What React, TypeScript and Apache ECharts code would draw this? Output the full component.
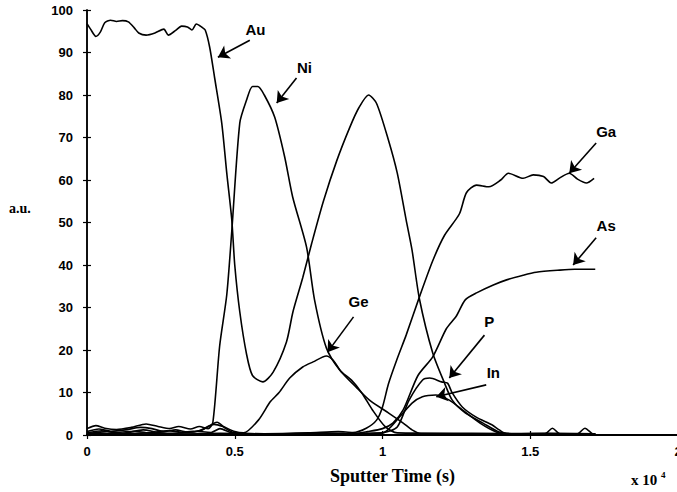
import React, { useEffect, useRef } from "react";
import * as echarts from "echarts";

// x in units of 1e4 s, y in a.u.
const xTickLabels = ["0", "0.5", "1", "1.5", "2"];
const yTickValues = [0, 10, 20, 30, 40, 50, 60, 70, 80, 90, 100];

const au = [
  [0, 96.8], [0.012, 95.5], [0.03, 93.8], [0.045, 94.8], [0.06, 97], [0.08, 97.6], [0.1, 97.3],
  [0.12, 97.5], [0.14, 97.2], [0.16, 95.8], [0.175, 94.6], [0.2, 94.1], [0.23, 94.6], [0.26, 95.5],
  [0.275, 94.1], [0.3, 95.2], [0.32, 96.2], [0.34, 96], [0.355, 95.3], [0.37, 96.7], [0.388, 96],
  [0.4, 95.3], [0.415, 91.3], [0.432, 84], [0.456, 73.4], [0.473, 61.6], [0.49, 50.6], [0.5, 40],
  [0.517, 29], [0.54, 19], [0.56, 14], [0.595, 12.5], [0.63, 14.8], [0.675, 21.9], [0.697, 29],
  [0.73, 37], [0.76, 45], [0.8, 55], [0.845, 64.5], [0.89, 72.5], [0.92, 77], [0.953, 80],
  [0.98, 78], [1.02, 69.4], [1.05, 61.6], [1.08, 50.6], [1.1, 43.5], [1.125, 32], [1.17, 19.3],
  [1.21, 12.2], [1.236, 8.2], [1.28, 5.2], [1.34, 2.8], [1.395, 0.7], [1.45, 0.3], [1.55, 0.4], [1.72, 0.3],
];

const ni = [
  [0, 1.5], [0.03, 2.2], [0.06, 1.6], [0.1, 1.3], [0.15, 1.8], [0.2, 2.6], [0.24, 2.0], [0.28, 1.5],
  [0.31, 2.0], [0.35, 1.4], [0.38, 2.0], [0.41, 1.5], [0.426, 3], [0.449, 21], [0.473, 33],
  [0.49, 48], [0.517, 73.4], [0.54, 78.8], [0.56, 82], [0.578, 82], [0.6, 80], [0.635, 74.8],
  [0.669, 65.4], [0.696, 56], [0.743, 44.2], [0.77, 31.8], [0.81, 20.5], [0.855, 15.3],
  [0.895, 12.9], [0.93, 9.9], [0.966, 5.9], [1.01, 1.9], [1.05, 0.5], [1.3, 0.4], [1.72, 0.3],
];

const ge = [
  [0, 0.8], [0.04, 1.4], [0.08, 0.9], [0.13, 1.2], [0.18, 1.8], [0.22, 1.5], [0.26, 0.8], [0.3, 1.2],
  [0.34, 0.7], [0.38, 1.0], [0.43, 2.5], [0.46, 2.0], [0.5, 0.8], [0.53, 0.5], [0.58, 3.5],
  [0.62, 7.8], [0.65, 10], [0.686, 13.4], [0.73, 16], [0.765, 17.2], [0.81, 18.6], [0.833, 17.6],
  [0.86, 14.9], [0.91, 11.3], [0.956, 8.2], [1.02, 5.2], [1.07, 2.8], [1.1, 1.2], [1.13, 0.3],
  [1.5, 0.3], [1.72, 0.2],
];

const ga = [
  [0, 0.5], [0.05, 1.0], [0.1, 0.6], [0.16, 0.9], [0.21, 0.5], [0.27, 1.0], [0.33, 0.6],
  [0.39, 1.2], [0.44, 3.0], [0.47, 1.5], [0.5, 0.5], [0.6, 0.3], [0.75, 0.5], [0.85, 0.8],
  [0.9, 0.6], [0.945, 1.6], [0.98, 3.5], [1.0, 6.6], [1.02, 12], [1.05, 18], [1.08, 23.5],
  [1.125, 32.5], [1.17, 41], [1.21, 47], [1.26, 52], [1.284, 57], [1.318, 58.8], [1.36, 58.4],
  [1.4, 60], [1.426, 61.6], [1.476, 60.4], [1.51, 61.2], [1.545, 60.8], [1.571, 59.3],
  [1.6, 60.5], [1.632, 61.6], [1.66, 60.2], [1.69, 59.3], [1.716, 60.4],
];

const as = [
  [0, 0.3], [0.07, 0.8], [0.12, 0.4], [0.19, 1.2], [0.24, 0.6], [0.3, 0.4], [0.36, 0.9],
  [0.42, 0.6], [0.45, 1.5], [0.49, 0.5], [0.6, 0.2], [0.8, 0.4], [0.9, 0.3], [0.95, 0.8],
  [1.0, 1.5], [1.035, 2.8], [1.07, 5.9], [1.12, 14], [1.17, 18.4], [1.216, 25], [1.25, 28],
  [1.28, 31.8], [1.32, 33.5], [1.375, 35.3], [1.42, 36.5], [1.476, 37.6], [1.52, 38.3],
  [1.6, 38.8], [1.65, 39], [1.72, 39],
];

const p = [
  [0, 0.4], [0.1, 0.2], [0.2, 0.5], [0.3, 0.2], [0.45, 0.4], [0.7, 0.2], [0.9, 0.3], [1.0, 0.5],
  [1.05, 1.9], [1.09, 8.2], [1.135, 12.9], [1.16, 13.4], [1.2, 12.5], [1.22, 12.2], [1.236, 9.9],
  [1.27, 6.6], [1.317, 4.2], [1.37, 2.4], [1.395, 1.2], [1.42, 0.3], [1.55, 0.3], [1.575, 1.6],
  [1.6, 0.3], [1.66, 0.3], [1.685, 1.6], [1.71, 0.3], [1.72, 0.2],
];

const inn = [
  [0, 0.2], [0.15, 0.3], [0.3, 0.2], [0.5, 0.2], [0.8, 0.3], [1.0, 0.5], [1.057, 4.2], [1.1, 7.5],
  [1.135, 9], [1.18, 9.4], [1.226, 8.2], [1.27, 5.9], [1.33, 2.8], [1.385, 0.7], [1.42, 0.3],
  [1.55, 0.2], [1.72, 0.2],
];

// annotation: label position, arrow start, arrow tip (data space)
const annotations = [
  { name: "Au", label: [0.57, 95.5], from: [0.551, 92.9], to: [0.443, 88.9] },
  { name: "Ni", label: [0.736, 86.4], from: [0.709, 84], to: [0.642, 78.1] },
  { name: "Ga", label: [1.757, 71.3], from: [1.723, 68.7], to: [1.632, 61.6] },
  { name: "As", label: [1.757, 49.4], from: [1.723, 46.4], to: [1.645, 40] },
  { name: "Ge", label: [0.919, 31.3], from: [0.902, 27.8], to: [0.814, 19.5] },
  { name: "P", label: [1.361, 26.6], from: [1.345, 23.5], to: [1.226, 13.4] },
  { name: "In", label: [1.375, 14.6], from: [1.351, 11.8], to: [1.182, 9] },
];

const seriesData: [string, number[][]][] = [
  ["Au", au], ["Ni", ni], ["Ge", ge], ["Ga", ga], ["As", as], ["P", p], ["In", inn],
];

export default function App() {
  const ref = useRef<HTMLDivElement>(null);
  useEffect(() => {
    document.body.style.margin = "0";
    const chart = echarts.init(ref.current!, null, { renderer: "svg" });
    const series: any[] = seriesData.map(([name, data]) => {
      const ann = annotations.find((a) => a.name === name)!;
      return {
        type: "line",
        name,
        data,
        showSymbol: false,
        smooth: 0.25,
        lineStyle: { color: "#000", width: 1.6 },
        itemStyle: { color: "#000" },
        silent: true,
        markLine: {
          silent: true,
          symbol: ["none", "arrow"],
          symbolSize: 11,
          label: { show: false },
          lineStyle: { color: "#000", width: 1.6, type: "solid" },
          data: [[{ coord: ann.from }, { coord: ann.to }]],
        },
        markPoint: {
          silent: true,
          symbol: "rect",
          symbolSize: 1,
          itemStyle: { color: "rgba(0,0,0,0)" },
          label: {
            show: true,
            position: "inside",
            color: "#000",
            fontFamily: "Liberation Sans",
            fontWeight: "bold",
            fontSize: 15,
            formatter: ann.name,
          },
          data: [{ coord: ann.label, value: ann.name }],
        },
      };
    });
    const grid = { left: 87, top: 10, width: 591, height: 425, containLabel: false, outerBoundsMode: "none" };
    const tickStyle = { lineStyle: { color: "#000", width: 1.2 } };
    chart.setOption({
      animation: false,
      grid,
      xAxis: [
        {
          type: "value",
          min: 0,
          max: 2,
          interval: 0.5,
          axisLine: { show: true, lineStyle: { color: "#000", width: 1.8 } },
          axisTick: { show: true, inside: true, length: 4, ...tickStyle },
          splitLine: { show: false },
          axisLabel: {
            color: "#000",
            fontFamily: "Liberation Sans",
            fontWeight: "bold",
            fontSize: 13,
            margin: 10,
            formatter: (v: number) => xTickLabels[Math.round(v / 0.5)],
          },
        },
        {
          type: "value",
          position: "top",
          min: 0,
          max: 2,
          interval: 0.5,
          axisLine: { show: true, lineStyle: { color: "#000", width: 1.5 } },
          axisTick: { show: true, inside: true, length: 4, ...tickStyle },
          splitLine: { show: false },
          axisLabel: { show: false },
        },
      ],
      yAxis: [
        {
          type: "value",
          min: 0,
          max: 100,
          interval: 10,
          axisLine: { show: true, lineStyle: { color: "#000", width: 1.5 } },
          axisTick: { show: true, inside: true, length: 4, ...tickStyle },
          splitLine: { show: false },
          axisLabel: {
            color: "#000",
            fontFamily: "Liberation Sans",
            fontWeight: "bold",
            fontSize: 13,
            margin: 14,
            formatter: (v: number) => (yTickValues.includes(v) ? String(v) : ""),
          },
        },
        {
          type: "value",
          position: "right",
          min: 0,
          max: 100,
          interval: 10,
          axisLine: { show: true, lineStyle: { color: "#000", width: 1.5 } },
          axisTick: { show: true, inside: true, length: 4, ...tickStyle },
          splitLine: { show: false },
          axisLabel: { show: false },
        },
      ],
      graphic: [
        {
          type: "text",
          left: 9,
          top: 201,
          style: { text: "a.u.", fill: "#000", font: "bold 14px 'Liberation Serif'" },
        },
        {
          type: "text",
          left: 330,
          top: 467,
          style: { text: "Sputter Time (s)", fill: "#000", font: "bold 18px 'Liberation Serif'" },
        },
        {
          type: "text",
          left: 631,
          top: 472,
          style: { text: "x 10", fill: "#000", font: "bold 15px 'Liberation Serif'" },
        },
        {
          type: "text",
          left: 661,
          top: 470,
          style: { text: "4", fill: "#000", font: "bold 9px 'Liberation Serif'" },
        },
      ],
      series,
    });
    return () => chart.dispose();
  }, []);
  return <div ref={ref} style={{ width: 677, height: 492 }} />;
}
